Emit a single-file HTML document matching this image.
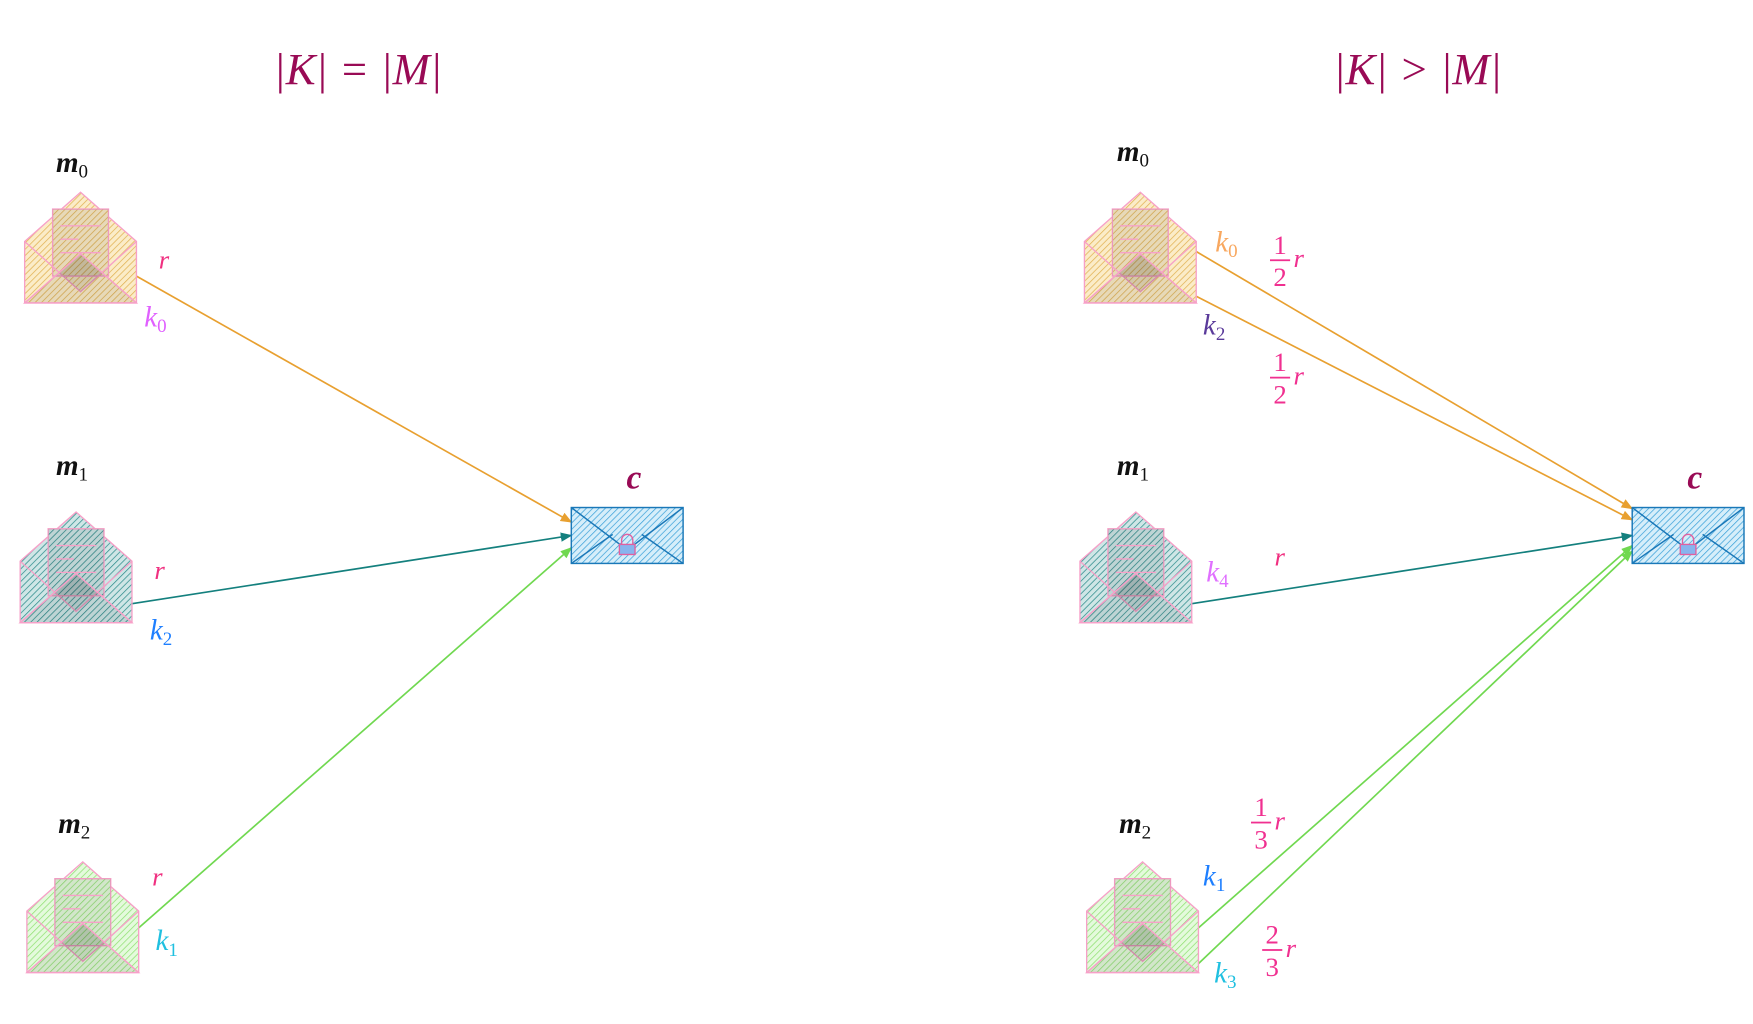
<!DOCTYPE html>
<html><head><meta charset="utf-8"><style>
html,body{margin:0;padding:0;background:#fff;}
svg{display:block;}
text{font-family:"Liberation Serif",serif;font-style:italic;}
.n{font-style:normal;}
</style></head><body>
<svg width="1753" height="1024" viewBox="0 0 1568 916" xmlns="http://www.w3.org/2000/svg">
<defs>
<pattern id="ho" width="4" height="4" patternUnits="userSpaceOnUse" patternTransform="rotate(45)"><rect width="4" height="4" fill="#fbecc8"/><line x1="0" y1="0" x2="0" y2="4" stroke="#e0b050" stroke-width="1.3"/></pattern>
<pattern id="ht" width="4" height="4" patternUnits="userSpaceOnUse" patternTransform="rotate(45)"><rect width="4" height="4" fill="#cfe6e6"/><line x1="0" y1="0" x2="0" y2="4" stroke="#2a8a8a" stroke-width="1.3"/></pattern>
<pattern id="hg" width="4" height="4" patternUnits="userSpaceOnUse" patternTransform="rotate(45)"><rect width="4" height="4" fill="#e4fadc"/><line x1="0" y1="0" x2="0" y2="4" stroke="#8ee070" stroke-width="1.3"/></pattern>
<pattern id="hb" width="4" height="4" patternUnits="userSpaceOnUse" patternTransform="rotate(45)"><rect width="4" height="4" fill="#d6eefa"/><line x1="0" y1="0" x2="0" y2="4" stroke="#3aa0d8" stroke-width="1.3"/></pattern>
<marker id="ao" viewBox="0 0 10 10" refX="9" refY="5" markerWidth="7" markerHeight="7" orient="auto"><path d="M0,1 L10,5 L0,9 z" fill="#e8a030"/></marker>
<marker id="at" viewBox="0 0 10 10" refX="9" refY="5" markerWidth="7" markerHeight="7" orient="auto"><path d="M0,1 L10,5 L0,9 z" fill="#14807e"/></marker>
<marker id="ag" viewBox="0 0 10 10" refX="9" refY="5" markerWidth="7" markerHeight="7" orient="auto"><path d="M0,1 L10,5 L0,9 z" fill="#70d850"/></marker>
<g id="env" stroke="#f7a0c8" stroke-width="1.2">
 <path d="M0,44 L50,0 L100,44 L100,99 L0,99 Z"/>
 <rect x="25" y="15" width="50" height="60"/>
 <rect x="25" y="15" width="50" height="60" fill="#000" fill-opacity="0.08" stroke="none"/>
 <line x1="32" y1="30" x2="68" y2="30"/><line x1="32" y1="42" x2="48" y2="42"/><line x1="32" y1="54" x2="68" y2="54"/>
 <path d="M0,44 L50,89 L100,44" fill="none"/>
 <path d="M30,72 L50,55 L70,72 L50,89 Z" fill="#000" fill-opacity="0.08" stroke="none"/>
 <path d="M0,99 L50,55 L100,99 Z" fill="#000" fill-opacity="0.08"/>
 <path d="M0,99 L50,55 L100,99" fill="none"/>
</g>
</defs>

<text x="320" y="75" font-size="40" fill="#990a55" text-anchor="middle">|K| = |M|</text>
<text x="1268" y="75" font-size="40" fill="#990a55" text-anchor="middle">|K| &gt; |M|</text>

<line x1="122" y1="247" x2="511" y2="467" stroke="#e8a030" stroke-width="1.5" marker-end="url(#ao)"/>
<line x1="118" y1="540" x2="511" y2="479" stroke="#14807e" stroke-width="1.5" marker-end="url(#at)"/>
<line x1="124" y1="830" x2="511" y2="490" stroke="#70d850" stroke-width="1.5" marker-end="url(#ag)"/>
<line x1="1070" y1="225" x2="1460" y2="455" stroke="#e8a030" stroke-width="1.5" marker-end="url(#ao)"/>
<line x1="1070" y1="265" x2="1460" y2="465" stroke="#e8a030" stroke-width="1.5" marker-end="url(#ao)"/>
<line x1="1066" y1="540" x2="1460" y2="479" stroke="#14807e" stroke-width="1.5" marker-end="url(#at)"/>
<line x1="1072" y1="830" x2="1460" y2="488" stroke="#70d850" stroke-width="1.5" marker-end="url(#ag)"/>
<line x1="1072" y1="862" x2="1460" y2="493" stroke="#70d850" stroke-width="1.5" marker-end="url(#ag)"/>

<use href="#env" x="22" y="172" fill="url(#ho)"/>
<use href="#env" x="18" y="458" fill="url(#ht)"/>
<use href="#env" x="24" y="771" fill="url(#hg)"/>
<use href="#env" x="970" y="172" fill="url(#ho)"/>
<use href="#env" x="966" y="458" fill="url(#ht)"/>
<use href="#env" x="972" y="771" fill="url(#hg)"/>

<g stroke="#1a78b8" stroke-width="1.3">
<rect x="511" y="454" width="100" height="50" fill="url(#hb)"/>
<path d="M511,454 L561,492 L611,454 M511,504 L548,478 M611,504 L574,478" fill="none"/>
<rect x="1460" y="454" width="100" height="50" fill="url(#hb)"/>
<path d="M1460,454 L1510,492 L1560,454 M1460,504 L1497,478 M1560,504 L1523,478" fill="none"/>
</g>
<g stroke="#e060a0" stroke-width="1.2">
<path d="M556,488 v-5 a5,5 0 0 1 10,0 v5" fill="none"/><rect x="554" y="487" width="14" height="9" fill="#88b4ee"/>
<path d="M1505,488 v-5 a5,5 0 0 1 10,0 v5" fill="none"/><rect x="1503" y="487" width="14" height="9" fill="#88b4ee"/>
</g>
<text x="567" y="437" font-size="30" fill="#990a55" font-weight="bold" text-anchor="middle">c</text>
<text x="1516" y="437" font-size="30" fill="#990a55" font-weight="bold" text-anchor="middle">c</text>

<g font-size="26" fill="#111" font-weight="bold">
<text x="50" y="154">m<tspan class="n" font-size="17" dy="5" font-weight="normal">0</tspan></text>
<text x="50" y="425">m<tspan class="n" font-size="17" dy="5" font-weight="normal">1</tspan></text>
<text x="52" y="745">m<tspan class="n" font-size="17" dy="5" font-weight="normal">2</tspan></text>
<text x="999" y="144">m<tspan class="n" font-size="17" dy="5" font-weight="normal">0</tspan></text>
<text x="999" y="425">m<tspan class="n" font-size="17" dy="5" font-weight="normal">1</tspan></text>
<text x="1001" y="745">m<tspan class="n" font-size="17" dy="5" font-weight="normal">2</tspan></text>
</g>

<g font-size="24" fill="#f03080">
<text x="142" y="240">r</text>
<text x="138" y="518">r</text>
<text x="136" y="792">r</text>
<text x="1140" y="506">r</text>
</g>

<g font-size="26">
<text x="129" y="292" fill="#e060ff">k<tspan class="n" font-size="17" dy="5">0</tspan></text>
<text x="134" y="572" fill="#1e7fff">k<tspan class="n" font-size="17" dy="5">2</tspan></text>
<text x="139" y="850" fill="#20c0e0">k<tspan class="n" font-size="17" dy="5">1</tspan></text>
<text x="1087" y="225" fill="#f8a860">k<tspan class="n" font-size="17" dy="5">0</tspan></text>
<text x="1076" y="299" fill="#5a3a9a">k<tspan class="n" font-size="17" dy="5">2</tspan></text>
<text x="1079" y="520" fill="#e070ff">k<tspan class="n" font-size="17" dy="5">4</tspan></text>
<text x="1076" y="792" fill="#1e7fff">k<tspan class="n" font-size="17" dy="5">1</tspan></text>
<text x="1086" y="879" fill="#20c0e0">k<tspan class="n" font-size="17" dy="5">3</tspan></text>
</g>

<g fill="#f03090" font-size="24" stroke="none">
<g transform="translate(1145,233)"><text class="n" x="0" y="-6" text-anchor="middle">1</text><rect x="-9" y="-1" width="18" height="1.6"/><text class="n" x="0" y="23" text-anchor="middle">2</text><text x="12" y="6">r</text></g>
<g transform="translate(1145,338)"><text class="n" x="0" y="-6" text-anchor="middle">1</text><rect x="-9" y="-1" width="18" height="1.6"/><text class="n" x="0" y="23" text-anchor="middle">2</text><text x="12" y="6">r</text></g>
<g transform="translate(1128,736)"><text class="n" x="0" y="-6" text-anchor="middle">1</text><rect x="-9" y="-1" width="18" height="1.6"/><text class="n" x="0" y="23" text-anchor="middle">3</text><text x="12" y="6">r</text></g>
<g transform="translate(1138,850)"><text class="n" x="0" y="-6" text-anchor="middle">2</text><rect x="-9" y="-1" width="18" height="1.6"/><text class="n" x="0" y="23" text-anchor="middle">3</text><text x="12" y="6">r</text></g>
</g>
</svg>
</body></html>
